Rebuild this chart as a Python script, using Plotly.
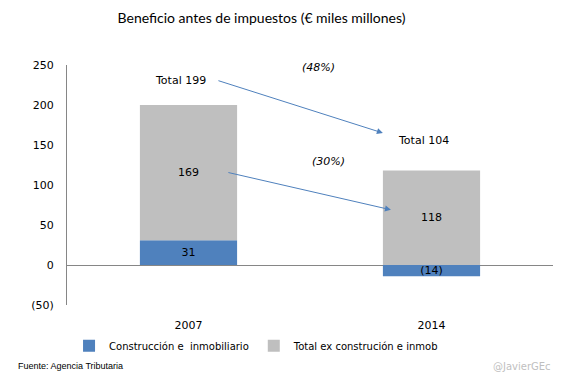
import plotly.graph_objects as go

years = ["2007", "2014"]
construccion = [31, -14]
total_ex = [169, 118]
yticks = [-50, 0, 50, 100, 150, 200, 250]
yticklabels = ["(50)", "0", "50", "100", "150", "200", "250"]
totals = [199, 104]
pct_changes = ["(48%)", "(30%)"]

def fmt(v):
    return f"({abs(v)})" if v < 0 else f"{v}"

BLUE = "#4F81BD"
GRAY = "#BFBFBF"
LBL = dict(family="DejaVu Sans", size=11, color="#000000")

fig = go.Figure()
fig.add_bar(x=[0, 1], y=construccion, name="Construcción e  inmobiliario",
            marker=dict(color=BLUE, line=dict(width=0)),
            text=[fmt(v) for v in construccion], textposition="inside",
            insidetextanchor="middle", constraintext="none",
            textfont=dict(family="DejaVu Sans", size=11, color="#000000"))
fig.add_bar(x=[0, 1], y=total_ex, name="Total ex construción e inmob",
            marker=dict(color=GRAY, line=dict(width=0)),
            text=[fmt(v) for v in total_ex], textposition="inside",
            insidetextanchor="middle", constraintext="none",
            textfont=dict(family="DejaVu Sans", size=11, color="#000000"))

# Total labels and arrows
fig.add_annotation(x=-0.034, y=231, text=f"Total {totals[0]}", showarrow=False,
                   font=LBL)
fig.add_annotation(x=0.965, y=156, text=f"Total {totals[1]}", showarrow=False,
                   font=LBL)
fig.add_annotation(x=0.537, y=247, text=f"<i>{pct_changes[0]}</i>", showarrow=False,
                   font=dict(family="DejaVu Sans", size=11, color="#000000"))
fig.add_annotation(x=0.578, y=129, text=f"<i>{pct_changes[1]}</i>", showarrow=False,
                   font=dict(family="DejaVu Sans", size=11, color="#000000"))

fig.add_annotation(x=0.80, y=165, ax=0.117, ay=231, xref="x", yref="y",
                   axref="x", ayref="y", text="", showarrow=True,
                   arrowhead=2, arrowsize=1.2, arrowwidth=1, arrowcolor=BLUE)
fig.add_annotation(x=0.833, y=69, ax=0.158, ay=116, xref="x", yref="y",
                   axref="x", ayref="y", text="", showarrow=True,
                   arrowhead=2, arrowsize=1.2, arrowwidth=1, arrowcolor=BLUE)

fig.add_annotation(xref="paper", yref="paper", x=-0.105, y=-0.255,
                   xanchor="left", yanchor="middle", showarrow=False,
                   text="Fuente: Agencia Tributaria",
                   font=dict(family="Liberation Sans Narrow, Liberation Sans", size=9, color="#000000"))
fig.add_annotation(xref="paper", yref="paper", x=1.0, y=-0.255,
                   xanchor="right", yanchor="middle", showarrow=False,
                   text="@JavierGEc",
                   font=dict(family="DejaVu Sans", size=10, color="#BFBFBF"))

fig.update_layout(
    width=567, height=378,
    barmode="relative", bargap=0.6,
    plot_bgcolor="white", paper_bgcolor="white",
    margin=dict(l=67, r=14, t=65, b=73),
    title=dict(text="Beneficio antes de impuestos (€ miles millones)",
               x=261.5 / 567, xanchor="center", y=1 - 18 / 378, yanchor="middle",
               font=dict(family="Lato", size=14, color="#000000")),
    showlegend=True,
    legend=dict(orientation="h", x=0.39, xanchor="center", y=-0.17,
                yanchor="middle", font=dict(family="DejaVu Sans", size=10, color="#000000"),
                traceorder="normal", itemwidth=30),
    xaxis=dict(tickmode="array", tickvals=[0, 1], ticktext=years,
               range=[-0.5, 1.5], showline=False, showgrid=False,
               zeroline=False, ticks="", ticklabelstandoff=12,
               tickfont=dict(family="DejaVu Sans", size=11, color="#000000")),
    yaxis=dict(range=[-50, 250], tickmode="array", tickvals=yticks,
               ticktext=yticklabels, showgrid=False, showline=True,
               linecolor="#868686", linewidth=1, zeroline=True,
               zerolinecolor="#868686", zerolinewidth=1, ticks="",
               ticklabelstandoff=10,
               tickfont=dict(family="DejaVu Sans", size=11, color="#000000")),
)

fig.write_html("out.html", config={"displayModeBar": False},
               post_script="document.body.style.margin='0px';")
